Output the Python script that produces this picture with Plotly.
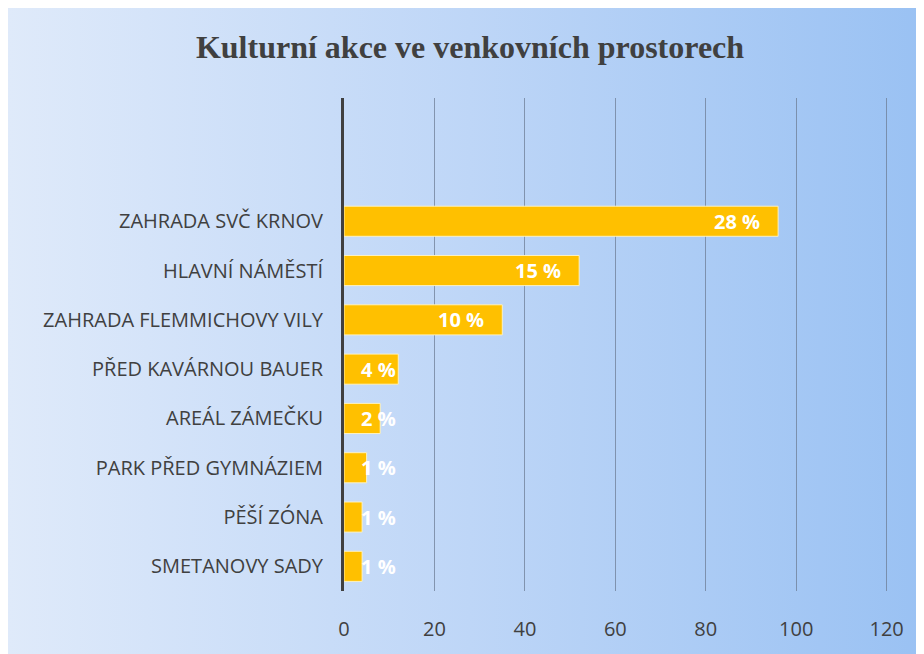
import base64
import plotly.graph_objects as go

# ---- data ----
categories = [
    "SMETANOVY SADY",
    "PĚŠÍ ZÓNA",
    "PARK PŘED GYMNÁZIEM",
    "AREÁL ZÁMEČKU",
    "PŘED KAVÁRNOU BAUER",
    "ZAHRADA FLEMMICHOVY VILY",
    "HLAVNÍ NÁMĚSTÍ",
    "ZAHRADA SVČ KRNOV",
]
values = [4, 4, 5, 8, 12, 35, 52, 96]
labels = ["1 %", "1 %", "1 %", "2 %", "4 %", "10 %", "15 %", "28 %"]
x_ticks = [0, 20, 40, 60, 80, 100, 120]
title_text = "Kulturní akce ve venkovních prostorech"

# ---- background gradient (as an SVG image) ----
svg = (
    '<svg xmlns="http://www.w3.org/2000/svg" width="924" height="654" '
    'viewBox="0 0 100 100" preserveAspectRatio="none">'
    '<defs><linearGradient id="g" x1="0" y1="0" x2="1" y2="0">'
    '<stop offset="0" stop-color="#DFEAFA"/>'
    '<stop offset="0.5" stop-color="#BED6F7"/>'
    '<stop offset="1" stop-color="#99C1F3"/>'
    '</linearGradient></defs>'
    '<rect x="0" y="0" width="100" height="100" fill="url(#g)"/></svg>'
)
svg_uri = "data:image/svg+xml;base64," + base64.b64encode(svg.encode()).decode()

W, H = 924, 654
L, R, T, B = 336, 44, 90, 71
pw, ph = W - L - R, H - T - B

fig = go.Figure()
fig.add_trace(
    go.Bar(
        y=categories,
        x=values,
        orientation="h",
        marker=dict(color="#FFC000", line=dict(color="rgba(255,245,200,0.9)", width=1)),
        hoverinfo="x+y",
    )
)

lab_font = dict(family="Open Sans", size=20, color="white", weight="bold")
annotations = []
for c, v, t in zip(categories, values, labels):
    if v >= 20:
        annotations.append(dict(x=v, y=c, text=t, xanchor="right", xshift=-16,
                                showarrow=False, font=lab_font))
    else:
        annotations.append(dict(x=0, y=c, text=t, xanchor="left", xshift=15,
                                showarrow=False, font=lab_font))

fig.update_layout(
    width=W,
    height=H,
    margin=dict(l=L, r=R, t=T, b=B),
    paper_bgcolor="white",
    plot_bgcolor="rgba(0,0,0,0)",
    bargap=0.39,
    showlegend=False,
    title=dict(text=title_text, x=462 / W, xanchor="center", y=1 - 39 / H, yanchor="middle",
               font=dict(family="Liberation Serif", size=32, color="#404040", weight="bold")),
    images=[dict(source=svg_uri, xref="paper", yref="paper",
                 x=-L / pw, y=(H - B) / ph,
                 sizex=W / pw, sizey=H / ph,
                 xanchor="left", yanchor="top", sizing="stretch", layer="below")],
    annotations=annotations,
    xaxis=dict(range=[0, 120.3], tickvals=x_ticks, showgrid=True,
               gridcolor="rgba(110,125,150,0.75)", gridwidth=1, zeroline=False,
               showline=False, ticks="", ticklabelstandoff=24,
               tickfont=dict(family="Open Sans", size=20, color="#404040")),
    yaxis=dict(type="category", range=[-0.5, 9.5], showgrid=False, zeroline=False,
               showline=True, linecolor="#404040", linewidth=3, ticks="",
               ticklabelstandoff=14,
               tickfont=dict(family="Open Sans", size=20, color="#404040")),
)

fig.write_html("out.html")
